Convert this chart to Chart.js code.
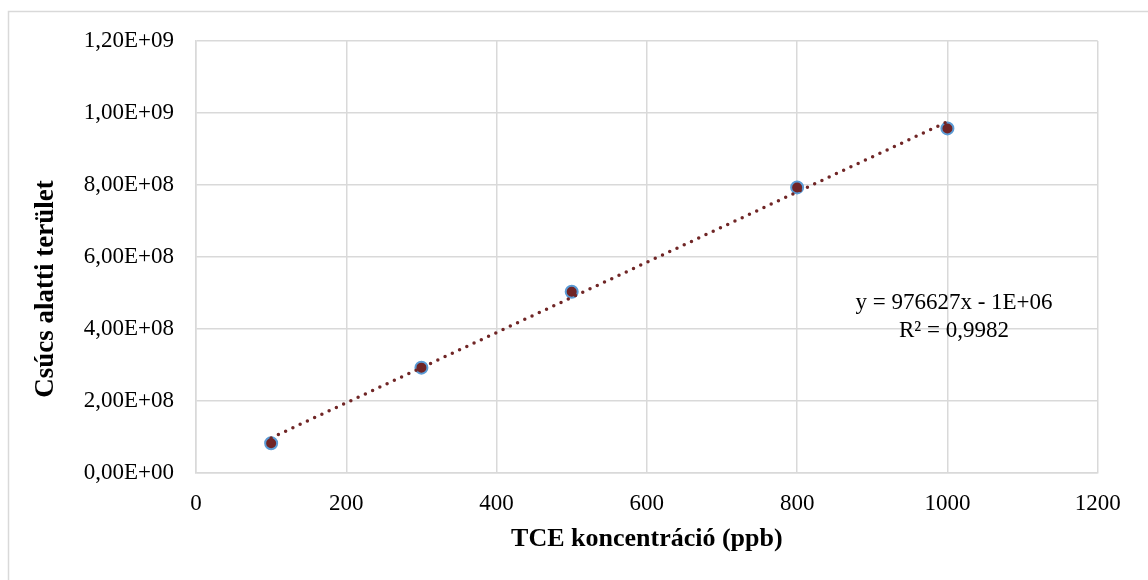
<!DOCTYPE html>
<html>
<head>
<meta charset="utf-8">
<script src="https://cdn.jsdelivr.net/npm/chart.js@4.4.1/dist/chart.umd.min.js"></script>
<style>
  html, body { margin: 0; padding: 0; background: #fff; }
  #wrap { position: relative; width: 1148px; height: 580px; }
</style>
</head>
<body>
<div id="wrap"><canvas id="tce_chart" width="1148" height="580"></canvas></div>
<script>
    // calibration data
    var concentrations = [100, 300, 500, 800, 1000];
    var peakAreas = [8.17e7, 2.92e8, 5.03e8, 7.93e8, 9.57e8];

    // linear trendline as reported on the chart
    var trendSlope = 976627;
    var trendIntercept = -1e6;
    var trendLabel = ['y = 976627x - 1E+06', 'R² = 0,9982'];

    var xTitle = 'TCE koncentráció (ppb)';
    var yTitle = 'Csúcs alatti terület';

    var gridGrey = '#d9d9d9';
    var serif = '"Liberation Serif", "Times New Roman", serif';

    // 1,20E+09 style labels
    function sciLabel(v) {
        if (v === 0) return '0,00E+00';
        var exp = Math.floor(Math.log10(Math.abs(v)));
        var mant = v / Math.pow(10, exp);
        var e = (exp < 10 ? '0' : '') + exp;
        return mant.toFixed(2).replace('.', ',') + 'E+' + e;
    }

    var trendData = [concentrations[0], concentrations[concentrations.length - 1]].map(function(x) {
        return { x: x, y: trendSlope * x + trendIntercept };
    });

    var extras = {
        id: 'extras',
        beforeDraw: function(chart) {
            var ctx = chart.ctx;
            ctx.save();
            ctx.strokeStyle = gridGrey;
            ctx.lineWidth = 1.5;
            ctx.beginPath();
            ctx.moveTo(8.5, 580);
            ctx.lineTo(8.5, 11.5);
            ctx.lineTo(1148, 11.5);
            ctx.stroke();
            ctx.restore();
        },
        afterDraw: function(chart) {
            var ctx = chart.ctx;
            var area = chart.chartArea;
            ctx.save();
            ctx.fillStyle = '#000';
            ctx.textAlign = 'center';
            ctx.textBaseline = 'middle';

            // axis titles
            ctx.font = 'bold 26px ' + serif;
            ctx.fillText(xTitle, (area.left + area.right) / 2, 539);
            ctx.save();
            ctx.translate(46, 289);
            ctx.rotate(-Math.PI / 2);
            ctx.font = 'bold 27px ' + serif;
            ctx.fillText(yTitle, 0, 0);
            ctx.restore();

            // trendline equation
            ctx.font = '23px ' + serif;
            ctx.fillText(trendLabel[0], 954, 303);
            ctx.fillText(trendLabel[1], 954, 331);
            ctx.restore();
        }
    };

    var config = {
        type: 'scatter',
        data: {
            datasets: [{
                label: 'trend',
                type: 'line',
                data: trendData,
                borderColor: 'rgb(112, 38, 38)',
                borderWidth: 3.5,
                borderDash: [0, 8],
                borderCapStyle: 'round',
                pointRadius: 0,
                fill: false,
                order: 0
            }, {
                label: 'TCE',
                data: concentrations.map(function(x, i) { return { x: x, y: peakAreas[i] }; }),
                backgroundColor: 'rgb(112, 36, 38)',
                borderColor: '#5b9bd5',
                borderWidth: 2,
                pointRadius: 6,
                order: 1
            }]
        },
        options: {
            responsive: false,
            animation: false,
            layout: { padding: { left: 0, top: 41, right: 50.3, bottom: 0 } },
            plugins: {
                legend: { display: false },
                tooltip: { enabled: false }
            },
            scales: {
                x: {
                    type: 'linear',
                    min: 0,
                    max: 1200,
                    afterFit: function(scale) { scale.height = 107.3; },
                    grid: { color: gridGrey, lineWidth: 1.5, drawTicks: false },
                    border: { color: gridGrey, width: 1.5 },
                    ticks: {
                        stepSize: 200,
                        padding: 17,
                        color: '#000',
                        font: { family: serif, size: 23 },
                        callback: function(v) { return String(v); }
                    }
                },
                y: {
                    min: 0,
                    max: 1.2e9,
                    afterFit: function(scale) { scale.width = 196; },
                    grid: { color: gridGrey, lineWidth: 1.5, drawTicks: false },
                    border: { color: gridGrey, width: 1.5 },
                    ticks: {
                        stepSize: 2e8,
                        padding: 22,
                        color: '#000',
                        font: { family: serif, size: 23 },
                        callback: function(v) { return sciLabel(v); }
                    }
                }
            }
        },
        plugins: [extras]
    };

    window.chart = new Chart(document.getElementById('tce_chart').getContext('2d'), config);
</script>
</body>
</html>
